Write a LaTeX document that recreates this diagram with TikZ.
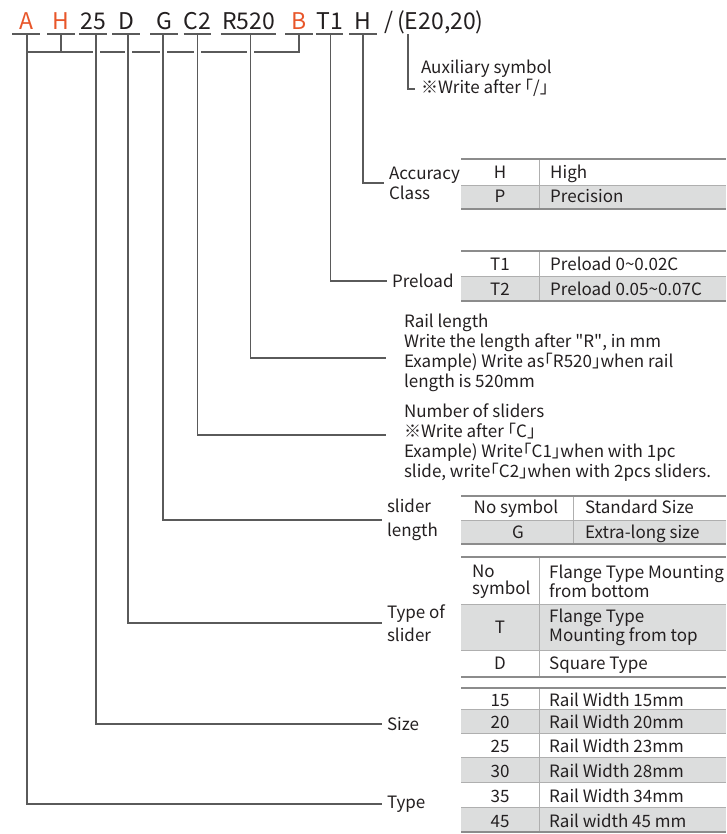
\documentclass[tikz,border=0pt]{standalone}
\usepackage{fontspec}
\setmainfont[RawFeature=+halt]{Noto Sans CJK SC}
\definecolor{codeorange}{HTML}{E8562A}
\definecolor{ink}{HTML}{231F20}
\definecolor{wire}{HTML}{5A5A5A}
\definecolor{rowgrey}{HTML}{DCDDDD}
\definecolor{rulegrey}{HTML}{8C8C8C}

\begin{document}
\begin{tikzpicture}[x=1pt, y=-1pt,
    every node/.style={text=ink, inner sep=0pt},
    code/.style={font=\fontsize{23}{23}\selectfont, minimum width=27pt, text depth=4pt, anchor=base},
    keycode/.style={code, text=codeorange},
    uline/.style={draw=wire, line width=1.6pt},
    link/.style={draw=wire, line width=1.6pt},
    hop/.style={link, preaction={draw=white, line width=7pt}},
    lbl/.style={font=\fontsize{17}{20}\selectfont, align=left, anchor=west, outer sep=5pt},
    widelbl/.style={lbl, font=\fontsize{17}{23.5}\selectfont},
    cell/.style={font=\fontsize{17}{17}\selectfont, align=left},
    band/.style={fill=rowgrey},
    rim/.style={draw=rulegrey, line width=1.3pt},
    rowline/.style={draw=rulegrey!70, line width=0.8pt}]
\useasboundingbox (0,0) rectangle (726,834);

% model code
\node[keycode] (cA) at (26,30) {A};
\node[keycode] (cH) at (61,30) {H};
\node[code] (c25) at (93,30) {25};
\node[code] (cD) at (126,30) {D};
\node[code] (cG) at (164,30) {G};
\node[code] (cC) at (197.5,30) {C2};
\node[code, minimum width=55pt] (cR) at (248.5,30) {R520};
\node[keycode] (cB) at (299,30) {B};
\node[code] (cT) at (329.5,30) {T1};
\node[code] (cK) at (363,30) {H};
\node[code, minimum width=0pt] (slash) at (389,30) {/};
\node[code, anchor=base west] (cE) at (397,30) {(E20,20)};

% labels
\node[lbl] (aux) at (416,78) {Auxiliary symbol\\※Write after 「/」};
\node[lbl] (acc) at (384,183) {Accuracy\\Class};
\node[lbl] (pre) at (387,281) {Preload};
\node[lbl, anchor=north west] (rail) at (399,309) {Rail length\\Write the length after \textquotedbl R\textquotedbl, in mm\\Example) Write as「R520」when rail\\length is 520mm};
\node[lbl, anchor=north west] (num) at (399,399) {Number of sliders\\※Write after 「C」\\Example) Write「C1」when with 1pc\\slide, write「C2」when with 2pcs sliders.};
\node[widelbl] (slen) at (382,520) {slider\\length};
\node[widelbl] (styp) at (382,623) {Type of\\slider};
\node[lbl] (size) at (382,724) {Size};
\node[lbl] (type) at (382,804) {Type};
\coordinate (auxtip) at (415,89);
\coordinate (railtip) at (386,358);
\coordinate (numtip) at (386,435);

% connectors
\draw[link] (cA.south |- 0,52) -| (cB.south);
\draw[link] (cH.south) -- (cH.south |- 0,52);
\draw[link] ([xshift=0.7pt]cA.south) |- (type.west);
\draw[hop] ([xshift=3pt]c25.south) |- (size.west);
\draw[hop] ([xshift=2pt]cD.south) |- (styp.west);
\draw[hop] ([xshift=-1pt]cG.south) |- (slen.west);
\draw[hop] (cC.south) |- (numtip);
\draw[hop] ([xshift=2pt]cR.south) |- (railtip);
\draw[link] ([xshift=1pt]cT.south) |- (pre.west);
\draw[link] (cK.south) |- (acc.west);
\draw[link] ([xshift=11pt]cE.south west) |- (auxtip);
\foreach \n in {cA,cH,c25,cD,cG,cC,cR,cB,cT,cK}
  \draw[uline] (\n.south west) -- (\n.south east);

% accuracy class
\fill[band] (461,185) rectangle (726,209);
\draw[rowline] (461,185) -- (726,185) (539,159) -- (539,209);
\draw[rim] (461,159) -- (726,159) (461,209) -- (726,209);
\node[cell, anchor=base] (accH) at (500,179) {H};
\node[cell, anchor=base west] (accHt) at (550,179) {High};
\node[cell, anchor=base] (accP) at (500,203) {P};
\node[cell, anchor=base west] (accPt) at (550,203) {Precision};

% preload
\fill[band] (461,276) rectangle (726,301);
\draw[rowline] (461,276) -- (726,276) (539,251) -- (539,301);
\draw[rim] (461,251) -- (726,251) (461,301) -- (726,301);
\node[cell, anchor=base] (preT1) at (500,270) {T1};
\node[cell, anchor=base west] (preT1t) at (550,270) {Preload 0\textasciitilde0.02C};
\node[cell, anchor=base] (preT2) at (500,295) {T2};
\node[cell, anchor=base west] (preT2t) at (550,295) {Preload 0.05\textasciitilde0.07C};

% slider length
\fill[band] (461,520) rectangle (726,544);
\draw[rowline] (461,520) -- (726,520) (573,496) -- (573,544);
\draw[rim] (461,496) -- (726,496) (461,544) -- (726,544);
\node[cell, anchor=base] (slN) at (516,513) {No symbol};
\node[cell, anchor=base west] (slNt) at (585,513) {Standard Size};
\node[cell, anchor=base] (slG) at (518,538) {G};
\node[cell, anchor=base west] (slGt) at (585,538) {Extra-long size};

% type of slider
\fill[band] (461,604) rectangle (726,650);
\draw[rowline] (461,604) -- (726,604) (461,650) -- (726,650) (539,557) -- (539,677);
\draw[rim] (461,557) -- (726,557) (461,677) -- (726,677);
\node[cell, anchor=west] (stN) at (472,582) {No\\symbol};
\node[cell, anchor=west] (stNt) at (549,581) {Flange Type Mounting\\from bottom};
\node[cell] (stT) at (500,627) {T};
\node[cell, anchor=west] (stTt) at (549,627) {Flange Type\\Mounting from top};
\node[cell, anchor=base] (stD) at (500,669) {D};
\node[cell, anchor=base west] (stDt) at (549,669) {Square Type};

% size
\foreach \y/\z/\v/\t [count=\i] in {688/709/15/Rail Width 15mm, 709/733/20/Rail Width 20mm,
    733/757.5/25/Rail Width 23mm, 757.5/782/30/Rail Width 28mm,
    782/807/35/Rail Width 34mm, 807/832/45/Rail width 45 mm}{
  \ifodd\i\else\fill[band] (461,\y) rectangle (726,\z);\fi
  \draw[rowline] (461,\y) -- (726,\y);
  \node[cell, anchor=base] (sz\i) at (500,{(\y+\z)/2+7.5}) {\v};
  \node[cell, anchor=base west] (sz\i t) at (549,{(\y+\z)/2+7.5}) {\t};
}
\draw[rowline] (539,688) -- (539,832);
\draw[rim] (461,688) -- (726,688) (461,832) -- (726,832);
\end{tikzpicture}
\end{document}
